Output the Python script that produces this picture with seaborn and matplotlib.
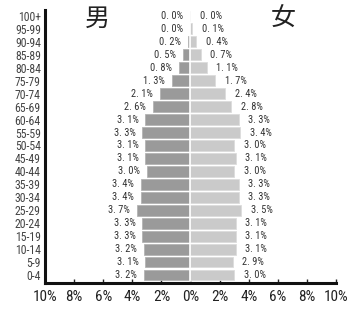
import numpy as np
import pandas as pd
import matplotlib
matplotlib.use("Agg")
import matplotlib.pyplot as plt
import matplotlib.transforms as mtransforms
from matplotlib import font_manager
import seaborn as sns

# age groups, top to bottom
ages = ["100+", "95-99", "90-94", "85-89", "80-84", "75-79", "70-74", "65-69",
        "60-64", "55-59", "50-54", "45-49", "40-44", "35-39", "30-34", "25-29",
        "20-24", "15-19", "10-14", "5-9", "0-4"]
male = [0.0, 0.0, 0.2, 0.5, 0.8, 1.3, 2.1, 2.6, 3.1, 3.3, 3.1, 3.1, 3.0,
        3.4, 3.4, 3.7, 3.3, 3.3, 3.2, 3.1, 3.2]
female = [0.0, 0.1, 0.4, 0.7, 1.1, 1.7, 2.4, 2.8, 3.3, 3.4, 3.0, 3.1, 3.0,
          3.3, 3.3, 3.5, 3.1, 3.1, 3.1, 2.9, 3.0]
xticks = [-10, -8, -6, -4, -2, 0, 2, 4, 6, 8, 10]

# pick a narrow font if there is one
installed = {(f.name, f.stretch) for f in font_manager.fontManager.ttflist}
names = {n for n, s in installed}
stretch = "normal"
if "Liberation Sans Narrow" in names:
    fam = "Liberation Sans Narrow"
elif "Roboto Condensed" in names:
    fam = "Roboto Condensed"
elif ("DejaVu Sans", "condensed") in installed or ("DejaVu Sans", "semi-condensed") in installed:
    fam = "DejaVu Sans"
    stretch = "condensed"
else:
    fam = "Liberation Sans"

sns.set_theme(style="white")
plt.rcParams["font.family"] = [fam, "DejaVu Sans"]
plt.rcParams["font.stretch"] = stretch

df = pd.DataFrame({"age": ages, "male": [-v for v in male], "female": female})

fig = plt.figure(figsize=(3.47, 3.09), dpi=100)
ax = fig.add_axes([45 / 347, 26 / 309, 291 / 347, 273 / 309])

sns.barplot(data=df, x="male", y="age", order=ages, orient="h", color="#9a9a9a",
            saturation=1, width=0.84, edgecolor="#b4b4b4", linewidth=0.6, ax=ax)
sns.barplot(data=df, x="female", y="age", order=ages, orient="h", color="#cacaca",
            saturation=1, width=0.84, edgecolor="#dcdcdc", linewidth=0.6, ax=ax)
ax.axvline(0, color="white", lw=1.2)

lab_font = dict(fontsize=7.5, color="#333333", fontstretch=stretch)
for i, (m, f) in enumerate(zip(male, female)):
    ax.annotate(f"{m:.1f}%".replace(".", ". "), (-m, i), xytext=(-5, 0),
                textcoords="offset points", ha="right", va="center", **lab_font)
    ax.annotate(f"{f:.1f}%".replace(".", ". "), (f, i), xytext=(7, 0),
                textcoords="offset points", ha="left", va="center", **lab_font)

ax.set_xlim(-10, 10)
ax.set_ylim(20.62, -0.46)
ax.set_xticks(xticks)
ax.set_xticklabels([f"{abs(t)}%" for t in xticks], fontsize=11, color="#222222",
                   fontstretch=stretch)
shift = mtransforms.ScaledTranslation(-3.5 / 100, 0, fig.dpi_scale_trans)
for t in ax.get_xticklabels():
    t.set_transform(t.get_transform() + shift)
ax.tick_params(axis="x", direction="in", length=3, width=1, color="#222222", pad=5, bottom=True)
ax.tick_params(axis="y", length=0, labelsize=8.5, labelcolor="#444444", pad=3)
for t in ax.get_yticklabels():
    t.set_fontstretch(stretch)
ax.set_xlabel("")
ax.set_ylabel("")
for s in ["top", "right"]:
    ax.spines[s].set_visible(False)
for s in ["left", "bottom"]:
    ax.spines[s].set_color("#111111")
    ax.spines[s].set_linewidth(2.2)

ax.text(-6.4, 0.2, "男", fontsize=18, family=["Noto Sans CJK JP"], ha="center", va="center", color="#222222")
ax.text(6.35, 0.25, "女", fontsize=18, family=["Noto Sans CJK JP"], ha="center", va="center", color="#222222")

fig.savefig("out.png", dpi=100)
